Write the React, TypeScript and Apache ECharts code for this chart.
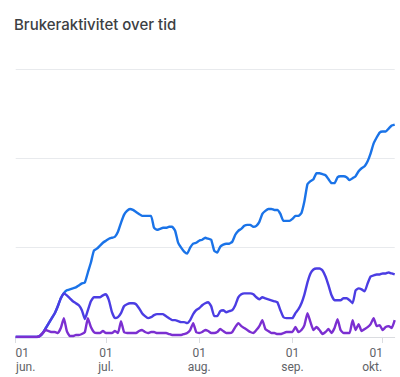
import React, { useEffect, useRef } from "react";
import * as echarts from "echarts";

const TITLE = "Brukeraktivitet over tid";
const START_DATE = "2024-06-01";
const MONTH_LABELS: Record<number, string> = { 5: "jun.", 6: "jul.", 7: "aug.", 8: "sep.", 9: "okt." };

const blueSeries = [
  0, 0, 0, 0, 0, 0, 0, 0, 1, 4, 9, 14, 19, 24, 31, 39, 44, 47, 48, 49, 50, 52, 54, 55, 65, 75, 87, 89, 92, 95,
  97, 99, 100, 101, 106, 115, 123, 127, 129, 128, 126, 124, 122, 122, 122, 122, 110, 108, 109, 110, 110, 111, 111, 107, 95, 90, 86, 84, 90, 94,
  95, 97, 98, 100, 99, 98, 87, 85, 91, 93, 94, 94, 96, 103, 107, 109, 112, 113, 113, 111, 112, 116, 124, 127, 129, 129, 128, 128, 124, 117,
  117, 117, 119, 122, 122, 125, 137, 154, 157, 159, 165, 165, 164, 163, 159, 155, 155, 161, 162, 162, 161, 158, 160, 162, 167, 170, 172, 177, 185, 195,
  201, 206, 207, 207, 210, 213, 214,
];

const indigoSeries = [
  0, 0, 0, 0, 0, 0, 0, 0, 1, 4, 9, 14, 19, 24, 31, 39, 44, 42, 39, 36, 34, 32, 27, 18, 27, 36, 40, 40, 40, 42,
  43, 37, 25, 19, 20, 24, 31, 33, 34, 34, 33, 29, 24, 21, 19, 20, 22, 23, 23, 23, 21, 19, 17, 17, 16, 15, 15, 14, 17, 23,
  27, 29, 32, 34, 35, 31, 21, 21, 26, 27, 25, 26, 27, 32, 40, 43, 44, 44, 44, 43, 40, 38, 40, 39, 38, 37, 36, 35, 27, 20,
  19, 19, 19, 24, 28, 34, 43, 55, 64, 68, 69, 69, 67, 61, 52, 42, 37, 37, 37, 39, 39, 37, 34, 47, 49, 48, 46, 54, 61, 62,
  63, 63, 64, 64, 65, 64, 63,
];

const purpleSeries = [
  0, 0, 0, 0, 0, 0, 0, 0, 1, 4, 7, 6, 5, 5, 4, 9, 19, 6, 1, 1, 2, 2, 3, 5, 19, 10, 5, 4, 4, 6,
  4, 4, 4, 6, 4, 16, 5, 4, 4, 4, 4, 6, 7, 5, 4, 5, 5, 4, 4, 4, 4, 3, 2, 2, 2, 2, 3, 4, 7, 14,
  5, 4, 5, 7, 6, 4, 4, 5, 8, 6, 4, 4, 5, 10, 14, 11, 9, 7, 5, 4, 7, 11, 17, 8, 6, 4, 4, 3, 3, 4,
  5, 5, 5, 10, 5, 7, 12, 24, 15, 7, 10, 7, 3, 5, 8, 4, 9, 18, 7, 4, 4, 4, 17, 7, 13, 6, 8, 10, 13, 19,
  11, 12, 7, 10, 11, 9, 17,
];

const Y_MAX = 270;
const Y_INTERVAL = 90;

function buildDates(start: string, count: number): string[] {
  const [y, m, d] = start.split("-").map(Number);
  const out: string[] = [];
  for (let i = 0; i < count; i++) {
    const dt = new Date(Date.UTC(y, m - 1, d + i));
    const mm = String(dt.getUTCMonth() + 1).padStart(2, "0");
    const dd = String(dt.getUTCDate()).padStart(2, "0");
    out.push(`${dt.getUTCFullYear()}-${mm}-${dd}`);
  }
  return out;
}

export default function App() {
  const ref = useRef<HTMLDivElement>(null);
  useEffect(() => {
    if (!ref.current) return;
    const chart = echarts.init(ref.current, null, { renderer: "svg" });
    const dates = buildDates(START_DATE, blueSeries.length);
    const monthStarts = dates.filter((s) => s.endsWith("-01"));
    const firstLabel = monthStarts[0];
    const lastLabel = monthStarts[monthStarts.length - 1];
    const isMonthStart = (_i: number, v: string) => v.endsWith("-01");
    const labelColor = "#5f6368";
    const base = { color: labelColor, fontFamily: "Roboto", fontSize: 12, lineHeight: 14 };
    chart.setOption({
      animation: false,
      title: {
        text: TITLE,
        left: 9,
        top: 12,
        textStyle: { fontFamily: "Inter", fontSize: 15, fontWeight: 500, color: "#3c4043" },
      },
      grid: { left: 15.7, right: 5.3, top: 69, bottom: 40, containLabel: false, outerBoundsMode: "none" },
      xAxis: {
        type: "category",
        data: dates,
        boundaryGap: false,
        axisLine: { lineStyle: { color: "#dadce0", width: 1 } },
        axisTick: { show: true, interval: isMonthStart, length: 6, lineStyle: { color: "#dadce0" } },
        axisLabel: {
          interval: isMonthStart,
          margin: 9,
          hideOverlap: false,
          ...base,
          formatter: (v: string) => {
            const parts = v.split("-");
            const day = parts[2];
            const mon = MONTH_LABELS[Number(parts[1]) - 1] || "";
            if (v === firstLabel) return `{a1|${day}}\n{a2|${mon}}`;
            if (v === lastLabel) return `{b1|${day}}\n{b2|${mon}}`;
            return `{c|${day}}\n{c|${mon}}`;
          },
          rich: {
            a1: { ...base, padding: [0, 0, 0, 13] },
            a2: { ...base, padding: [0, 0, 0, 20] },
            b1: { ...base, padding: [0, 13, 0, 0] },
            b2: { ...base, padding: [0, 21, 0, 0] },
            c: { ...base },
          },
        },
        splitLine: { show: false },
      },
      yAxis: {
        type: "value",
        min: 0,
        max: Y_MAX,
        interval: Y_INTERVAL,
        axisLabel: { show: false },
        axisLine: { show: false },
        axisTick: { show: false },
        splitLine: { lineStyle: { color: "#e8eaed", width: 1 } },
      },
      series: [
        {
          name: "blue",
          type: "line",
          data: blueSeries,
          showSymbol: false,
          smooth: 0.15,
          lineStyle: { color: "#1a73e8", width: 2.4 },
          itemStyle: { color: "#1a73e8" },
        },
        {
          name: "indigo",
          type: "line",
          data: indigoSeries,
          showSymbol: false,
          smooth: 0.15,
          lineStyle: { color: "#4b3de3", width: 2.4 },
          itemStyle: { color: "#4b3de3" },
        },
        {
          name: "purple",
          type: "line",
          data: purpleSeries,
          showSymbol: false,
          smooth: 0.15,
          lineStyle: { color: "#7b2fd1", width: 2.4 },
          itemStyle: { color: "#7b2fd1" },
        },
      ],
    });
    return () => chart.dispose();
  }, []);
  return (
    <div
      ref={ref}
      style={{ position: "fixed", left: 0, top: 0, width: 400, height: 377, background: "#fff" }}
    />
  );
}
